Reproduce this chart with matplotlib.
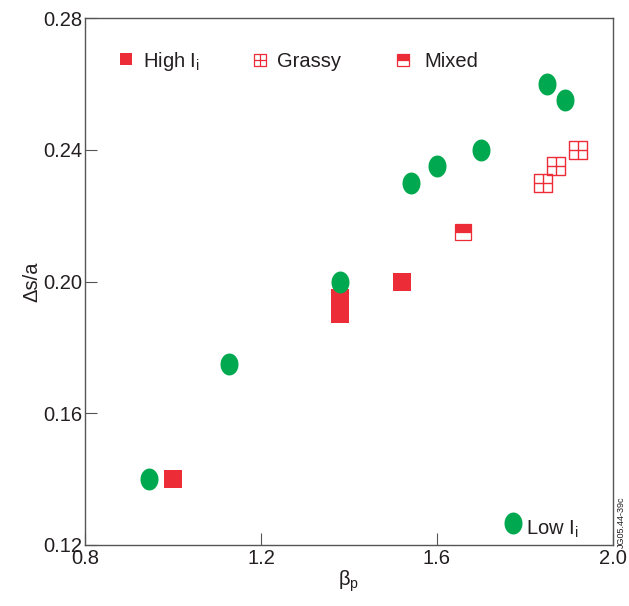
import numpy as np
import matplotlib.pyplot as plt
from matplotlib.path import Path

plt.rcParams['font.family'] = ['Liberation Sans', 'DejaVu Sans']
plt.rcParams['mathtext.fontset'] = 'custom'
plt.rcParams['mathtext.rm'] = 'Liberation Sans'
plt.rcParams['mathtext.it'] = 'Liberation Sans:italic'

RED = '#EC2D38'
GREEN = '#00A94F'

# data
low_x = [0.945, 1.127, 1.38, 1.54, 1.60, 1.70, 1.85, 1.89]
low_y = [0.140, 0.175, 0.200, 0.230, 0.235, 0.240, 0.260, 0.255]
high_x = [1.00, 1.38, 1.38, 1.52]
high_y = [0.140, 0.190, 0.195, 0.200]
grassy_x = [1.84, 1.87, 1.92]
grassy_y = [0.230, 0.235, 0.240]
mixed_x = [1.66]
mixed_y = [0.215]

xticks = [0.8, 1.2, 1.6, 2.0]
yticks = [0.12, 0.16, 0.20, 0.24, 0.28]

# tall ellipse marker
t = np.linspace(0, 2 * np.pi, 60)
ellipse = Path(np.column_stack([0.82 * np.cos(t), np.sin(t)]), closed=True)

# square with a cross inside
grid = Path(
    [(-1, -1), (1, -1), (1, 1), (-1, 1), (-1, -1), (0, -1), (0, 1), (-1, 0), (1, 0)],
    [Path.MOVETO, Path.LINETO, Path.LINETO, Path.LINETO, Path.CLOSEPOLY,
     Path.MOVETO, Path.LINETO, Path.MOVETO, Path.LINETO])

fig = plt.figure(figsize=(6.29, 6.06), dpi=100)
ax = fig.add_axes([85 / 629, 61 / 606, 528 / 629, 527 / 606])

ax.plot(high_x, high_y, ls='none', marker='s', ms=12.3, mfc=RED, mec=RED, mew=0, zorder=2)
ax.plot(mixed_x, mixed_y, ls='none', marker='s', ms=11.5, fillstyle='top', mfc=RED,
        mfcalt='white', mec=RED, mew=0.9, zorder=2)
ax.plot(grassy_x, grassy_y, ls='none', marker=grid, ms=12.3, mfc='none', mec=RED,
        mew=1.0, zorder=2)
ax.plot(low_x, low_y, ls='none', marker=ellipse, ms=15.8, mfc=GREEN, mec=GREEN, mew=0, zorder=3)

# legend drawn by hand
tr = ax.transAxes
ax.plot([0.0777], [0.9231], transform=tr, marker='s', ms=9.2, mfc=RED, mew=0, clip_on=False)
ax.text(0.1098, 0.907, 'High I$_\\mathrm{i}$', transform=tr, fontsize=14.5, va='baseline', color='#231F20')
ax.plot([0.3305], [0.9194], transform=tr, marker=grid, ms=9.2, mfc='none', mec=RED, mew=0.9)
ax.text(0.3636, 0.907, 'Grassy', transform=tr, fontsize=14.5, va='baseline', color='#231F20')
ax.plot([0.6023], [0.9194], transform=tr, marker='s', ms=8.8, fillstyle='top', mfc=RED,
        mfcalt='white', mec=RED, mew=0.9)
ax.text(0.6420, 0.907, 'Mixed', transform=tr, fontsize=14.5, va='baseline', color='#231F20')
ax.plot([0.8106], [0.0408], transform=tr, marker=ellipse, ms=15.8, mfc=GREEN, mew=0)
ax.text(0.8352, 0.019, 'Low I$_\\mathrm{i}$', transform=tr, fontsize=14.5, va='baseline', color='#231F20')

ax.set_xlim(0.8, 2.0)
ax.set_ylim(0.12, 0.28)
ax.set_xticks(xticks)
ax.set_xticklabels([f'{v:.1f}' for v in xticks])
ax.set_yticks(yticks)
ax.set_yticklabels([f'{v:.2f}' for v in yticks])
ax.tick_params(direction='in', length=8.5, width=0.8, color='#555555',
               labelsize=14.5, labelcolor='#231F20')
ax.tick_params(axis='x', pad=3)
ax.tick_params(axis='y', pad=2)
for s in ax.spines.values():
    s.set_color('#555555')
    s.set_linewidth(1.0)

ax.set_xlabel('β$_\\mathrm{p}$', fontsize=14.5, color='#231F20', labelpad=0)
ax.set_ylabel('Δs/a', fontsize=14.5, color='#231F20', labelpad=1)

fig.text(621 / 629, (606 - 548) / 606, 'JG05.44-39c', rotation=90, fontsize=6.5,
         ha='center', va='bottom', color='#231F20')

fig.savefig('out.png', dpi=100)
